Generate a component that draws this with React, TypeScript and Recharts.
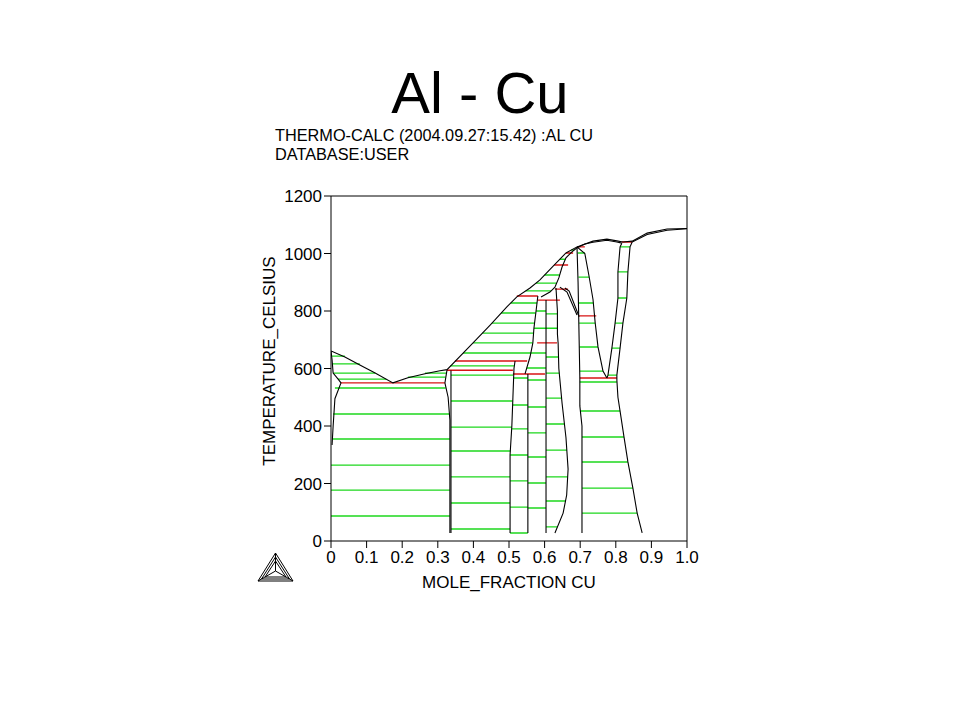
import React from "react";
import { ComposedChart, Line, XAxis, YAxis } from "recharts";

const FONT = "'Liberation Sans', Arial, Helvetica, sans-serif";

// ---- axis ticks ----
const xTicks = [0, 0.1, 0.2, 0.3, 0.4, 0.5, 0.6, 0.7, 0.8, 0.9, 1.0];
const xTickLabels = ["0", "0.1", "0.2", "0.3", "0.4", "0.5", "0.6", "0.7", "0.8", "0.9", "1.0"];
const yTicks = [0, 200, 400, 600, 800, 1000, 1200];

// ---- phase boundaries: [mole fraction Cu, temperature C] ----
const liquidus = [
  [0, 661], [0.039, 640], [0.081, 612], [0.124, 584], [0.174, 550], [0.216, 568],
  [0.264, 582], [0.306, 592], [0.326, 596], [0.399, 689], [0.447, 751], [0.494, 814],
  [0.522, 849], [0.559, 880], [0.587, 908], [0.624, 956], [0.660, 1002], [0.691, 1023],
  [0.736, 1043], [0.775, 1050], [0.803, 1044], [0.820, 1040], [0.846, 1043],
  [0.888, 1071], [0.944, 1085], [1.0, 1087],
];
const solidusTop = [[0.691, 1020], [0.713, 1033], [0.736, 1039], [0.775, 1046], [0.803, 1040], [0.817, 1036]];
const solidusCu = [[0.846, 1040], [0.888, 1066], [0.944, 1081], [1.0, 1086]];
const alphaAl = [[0, 661], [0.003, 630], [0.006, 584], [0.020, 563], [0.028, 550], [0.011, 495], [0.006, 400], [0.003, 334]];
const thetaLeft = [[0.326, 596], [0.320, 550], [0.329, 500], [0.334, 420], [0.334, 28]];
const thetaRight = [[0.337, 593], [0.337, 28]];
const etaLeft = [[0.517, 626], [0.514, 600], [0.511, 500], [0.508, 400], [0.503, 300], [0.503, 28]];
const zetaUpper = [[0.581, 852], [0.576, 800], [0.570, 740], [0.567, 689], [0.559, 640], [0.545, 581]];
const zetaLine = [[0.553, 581], [0.553, 28]];
const deltaLine = [[0.604, 838], [0.604, 28]];
const gammaLeft = [
  [0.632, 880], [0.636, 800], [0.636, 720], [0.638, 689], [0.640, 600], [0.649, 480],
  [0.660, 360], [0.666, 250], [0.662, 160], [0.652, 97], [0.629, 28],
];
const gammaRight = [[0.691, 1023], [0.694, 900], [0.697, 700], [0.699, 567], [0.699, 470], [0.705, 400], [0.705, 28]];
const betaLeft = [[0.691, 1023], [0.713, 1000], [0.725, 920], [0.736, 840], [0.742, 760], [0.750, 675], [0.764, 591], [0.775, 567]];
const betaRight = [[0.817, 1036], [0.812, 1023], [0.806, 936], [0.806, 845], [0.798, 758], [0.789, 671], [0.778, 577], [0.775, 567]];
const cuLeft = [
  [0.846, 1040], [0.840, 1023], [0.834, 936], [0.831, 845], [0.820, 758], [0.812, 671],
  [0.803, 577], [0.803, 560], [0.806, 500], [0.812, 452], [0.823, 362], [0.834, 275],
  [0.848, 184], [0.860, 97], [0.874, 28],
];
const solidusEps = [[0.590, 849], [0.615, 866], [0.629, 883], [0.640, 915], [0.649, 953], [0.660, 985], [0.676, 1005], [0.691, 1020]];
const narrowA = [[0.643, 883], [0.663, 866], [0.691, 786]];
const narrowB = [[0.657, 880], [0.669, 869], [0.697, 780]];

const boundaries = [
  liquidus, solidusTop, solidusCu, alphaAl, thetaLeft, thetaRight, etaLeft, zetaUpper,
  zetaLine, deltaLine, gammaLeft, gammaRight, betaLeft, betaRight, cuLeft, solidusEps,
  narrowA, narrowB,
];

// ---- invariant (three-phase) lines: [T, x1, x2] ----
const redTies = [
  [550, 0.028, 0.320], [594, 0.326, 0.511], [626, 0.348, 0.551], [581, 0.511, 0.601],
  [689, 0.579, 0.635], [852, 0.522, 0.581], [838, 0.581, 0.643], [876, 0.629, 0.666],
  [960, 0.627, 0.666], [1002, 0.660, 0.680], [1023, 0.691, 0.713], [1040, 0.817, 0.846],
  [783, 0.697, 0.745], [567, 0.699, 0.803],
];

// ---- tie-lines: [T, x1, x2] ----
const greenTies = [
  // L + fcc(Al)
  [643, 0.003, 0.039], [616, 0.003, 0.081], [584, 0.006, 0.124], [563, 0.020, 0.155],
  // L + theta
  [570, 0.216, 0.322], [584, 0.264, 0.324],
  // fcc + theta
  [532, 0.011, 0.322], [442, 0.006, 0.333], [355, 0.005, 0.334], [264, 0, 0.334], [177, 0, 0.334], [87, 0, 0.334],
  // theta + eta
  [577, 0.337, 0.512], [487, 0.337, 0.510], [396, 0.337, 0.508], [313, 0.337, 0.504],
  [223, 0.337, 0.503], [132, 0.337, 0.503], [42, 0.337, 0.503],
  // L + eta
  [609, 0.335, 0.514],
  // L + zeta/epsilon
  [654, 0.371, 0.561], [689, 0.399, 0.567], [723, 0.425, 0.569], [758, 0.452, 0.572],
  [793, 0.478, 0.575], [828, 0.505, 0.579],
  [870, 0.547, 0.618], [897, 0.576, 0.634], [925, 0.600, 0.642], [980, 0.643, 0.658], [1012, 0.675, 0.683],
  // eta + zeta
  [567, 0.513, 0.553], [473, 0.510, 0.553], [390, 0.508, 0.553], [299, 0.503, 0.553],
  [209, 0.503, 0.553], [118, 0.503, 0.553], [28, 0.503, 0.553],
  // zeta + delta
  [560, 0.553, 0.604], [466, 0.553, 0.604], [376, 0.553, 0.604], [292, 0.553, 0.604],
  [202, 0.553, 0.604], [115, 0.553, 0.604],
  // epsilon + delta
  [602, 0.550, 0.604], [654, 0.561, 0.604], [740, 0.570, 0.604], [800, 0.576, 0.604],
  // delta + gamma
  [790, 0.604, 0.636], [740, 0.604, 0.636], [640, 0.604, 0.639], [584, 0.604, 0.641],
  [497, 0.604, 0.648], [407, 0.604, 0.656], [316, 0.604, 0.663], [223, 0.604, 0.665],
  [139, 0.604, 0.659], [49, 0.604, 0.636],
  // gamma + beta
  [1002, 0.693, 0.713], [918, 0.695, 0.725], [828, 0.696, 0.737], [758, 0.697, 0.742],
  [675, 0.698, 0.750], [591, 0.699, 0.764],
  // beta + fcc(Cu)
  [1023, 0.812, 0.840], [936, 0.806, 0.834], [845, 0.806, 0.831], [758, 0.798, 0.820],
  [671, 0.789, 0.812], [577, 0.778, 0.803],
  // gamma + fcc(Cu)
  [553, 0.699, 0.803], [452, 0.701, 0.812], [362, 0.705, 0.823], [275, 0.705, 0.834],
  [184, 0.705, 0.848], [97, 0.705, 0.860],
];

type Pt = { x: number; t: number | null };
const toPts = (arr: number[][]): Pt[] => arr.map(([x, t]) => ({ x, t }));
const toSegments = (list: number[][]): Pt[] => {
  const out: Pt[] = [];
  for (const [t, a, b] of list) {
    out.push({ x: a, t }, { x: b, t }, { x: b, t: null });
  }
  return out;
};

const greenData = toSegments(greenTies);
const redData = toSegments(redTies);

export default function App() {
  return (
    <div style={{ position: "absolute", left: 0, top: 0, width: 960, height: 720, background: "#fff" }}>
      <ComposedChart
        width={960}
        height={720}
        margin={{ top: 186, right: 263, bottom: 149, left: 271 }}
      >
        <XAxis
          xAxisId="b"
          type="number"
          dataKey="x"
          domain={[0, 1]}
          allowDataOverflow
          ticks={xTicks}
          interval={0}
          tickFormatter={(v: number) => xTickLabels[xTicks.indexOf(v)] ?? String(v)}
          height={30}
          tickSize={7}
          tickMargin={3}
          stroke="#000"
          tick={{ fill: "#000", fontSize: 17, fontFamily: FONT }}
        />
        <XAxis
          xAxisId="t"
          orientation="top"
          type="number"
          dataKey="x"
          domain={[0, 1]}
          allowDataOverflow
          ticks={xTicks}
          interval={0}
          height={10}
          tickSize={7}
          stroke="#000"
          tick={false}
        />
        <YAxis
          yAxisId="l"
          type="number"
          domain={[0, 1200]}
          allowDataOverflow
          ticks={yTicks}
          interval={0}
          width={60}
          tickSize={7}
          tickMargin={2}
          stroke="#000"
          tick={{ fill: "#000", fontSize: 17, fontFamily: FONT }}
        />
        <YAxis
          yAxisId="r"
          orientation="right"
          type="number"
          domain={[0, 1200]}
          allowDataOverflow
          ticks={yTicks}
          interval={0}
          width={10}
          tickSize={7}
          stroke="#000"
          tick={false}
        />
        <Line
          data={greenData}
          dataKey="t"
          xAxisId="b"
          yAxisId="l"
          type="linear"
          stroke="#1ed81e"
          strokeWidth={1.4}
          dot={false}
          activeDot={false}
          connectNulls={false}
          isAnimationActive={false}
        />
        <Line
          data={redData}
          dataKey="t"
          xAxisId="b"
          yAxisId="l"
          type="linear"
          stroke="#d81414"
          strokeWidth={1.4}
          dot={false}
          activeDot={false}
          connectNulls={false}
          isAnimationActive={false}
        />
        {boundaries.map((c, i) => (
          <Line
            key={"b" + i}
            data={toPts(c)}
            dataKey="t"
            xAxisId="b"
            yAxisId="l"
            type="linear"
            stroke="#000"
            strokeWidth={1.1}
            dot={false}
            activeDot={false}
            isAnimationActive={false}
          />
        ))}
      </ComposedChart>
      <svg
        width={960}
        height={720}
        style={{ position: "absolute", left: 0, top: 0, pointerEvents: "none" }}
      >
        <text x={480} y={113} textAnchor="middle" fontSize={58} fontFamily={FONT} fill="#000">
          Al - Cu
        </text>
        <text x={275} y={141} fontSize={16.3} fontFamily={FONT} fill="#000">
          THERMO-CALC (2004.09.27:15.42) :AL CU
        </text>
        <text x={275} y={160} fontSize={16.3} fontFamily={FONT} fill="#000">
          DATABASE:USER
        </text>
        <text
          transform="translate(275,361) rotate(-90)"
          textAnchor="middle"
          fontSize={17}
          fontFamily={FONT}
          fill="#000"
        >
          TEMPERATURE_CELSIUS
        </text>
        <text x={509} y={588} textAnchor="middle" fontSize={17} fontFamily={FONT} fill="#000">
          MOLE_FRACTION CU
        </text>
        <g stroke="#000" strokeWidth={1} fill="none">
          <polygon points="258,581 293,581 275.5,553" />
          <polygon points="261.5,579 289.5,579 275.5,557" />
          <polygon points="265,577 286,577 275.5,561" />
          <line x1={275.5} y1={553} x2={275.5} y2={571} />
          <line x1={258} y1={581} x2={275.5} y2={571} />
          <line x1={293} y1={581} x2={275.5} y2={571} />
        </g>
      </svg>
    </div>
  );
}
